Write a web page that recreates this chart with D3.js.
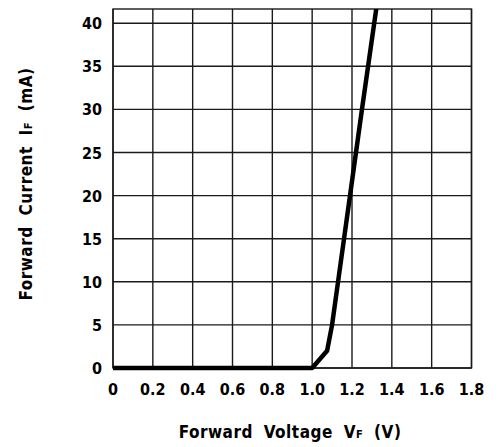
<!DOCTYPE html>
<html>
<head>
<meta charset="utf-8">
<script src="https://cdn.jsdelivr.net/npm/d3@7"></script>
<style>
  body { margin: 0; background: #fff; }
  text { font-family: "DejaVu Sans Condensed", "DejaVu Sans", sans-serif; font-weight: bold; fill: #000; }
</style>
</head>
<body>
<svg id="chartSvg" width="501" height="447"></svg>
<script>
// forward voltage (V) vs forward current (mA)
const voltage = [0, 1.0, 1.075, 1.10, 1.13, 1.19, 1.25, 1.33];
const current = [0, 0, 2, 5, 10, 20, 30, 43];

const xTicks = [0, 0.2, 0.4, 0.6, 0.8, 1.0, 1.2, 1.4, 1.6, 1.8];
const xTickLabels = ["0", "0.2", "0.4", "0.6", "0.8", "1.0", "1.2", "1.4", "1.6", "1.8"];
const yTicks = [0, 5, 10, 15, 20, 25, 30, 35, 40];

const svg = d3.select("#chartSvg");
const margin = { top: 9, right: 29.5, bottom: 79, left: 113 };
const width = 501, height = 447;

const xScale = d3.scaleLinear()
  .domain([0, 1.8])
  .range([margin.left, width - margin.right]);

const yScale = d3.scaleLinear()
  .domain([0, 41.65])
  .range([height - margin.bottom, margin.top]);

const gridColor = "#1a1a1a";

// vertical grid lines
svg.append("g")
  .selectAll("line")
  .data(xTicks)
  .enter()
  .append("line")
  .attr("x1", d => xScale(d))
  .attr("x2", d => xScale(d))
  .attr("y1", yScale.range()[0])
  .attr("y2", yScale.range()[1])
  .style("stroke", gridColor)
  .style("stroke-width", 1.4);

// horizontal grid lines
svg.append("g")
  .selectAll("line")
  .data(yTicks)
  .enter()
  .append("line")
  .attr("x1", xScale.range()[0])
  .attr("x2", xScale.range()[1])
  .attr("y1", d => yScale(d))
  .attr("y2", d => yScale(d))
  .style("stroke", gridColor)
  .style("stroke-width", 1.4);

// frame
svg.append("rect")
  .attr("x", xScale.range()[0])
  .attr("y", yScale.range()[1])
  .attr("width", xScale.range()[1] - xScale.range()[0])
  .attr("height", yScale.range()[0] - yScale.range()[1])
  .style("fill", "none")
  .style("stroke", gridColor)
  .style("stroke-width", 1.4);

// clip the curve to the plot area
svg.append("clipPath")
  .attr("id", "plotClip")
  .append("rect")
  .attr("x", xScale.range()[0] - 3)
  .attr("y", yScale.range()[1])
  .attr("width", xScale.range()[1] - xScale.range()[0] + 3)
  .attr("height", yScale.range()[0] - yScale.range()[1] + 3);

const line = d3.line()
  .x((d, i) => xScale(voltage[i]))
  .y((d, i) => yScale(current[i]));

svg.append("path")
  .datum(current)
  .attr("d", line)
  .attr("clip-path", "url(#plotClip)")
  .style("fill", "none")
  .style("stroke", "#000")
  .style("stroke-width", 4.5)
  .style("stroke-linejoin", "round");

// x tick labels
svg.append("g")
  .selectAll("text")
  .data(xTicks)
  .enter()
  .append("text")
  .attr("x", d => xScale(d))
  .attr("y", 395)
  .attr("text-anchor", "middle")
  .attr("font-size", "16px")
  .text((d, i) => xTickLabels[i]);

// y tick labels
svg.append("g")
  .selectAll("text")
  .data(yTicks)
  .enter()
  .append("text")
  .attr("x", 102)
  .attr("y", d => yScale(d) + 6)
  .attr("text-anchor", "end")
  .attr("font-size", "16px")
  .text(d => d);

// axis titles
const xTitle = svg.append("text")
  .attr("x", 290)
  .attr("y", 438)
  .attr("text-anchor", "middle")
  .attr("font-size", "17px")
  .attr("letter-spacing", "0.5px")
  .attr("word-spacing", "5px");
xTitle.append("tspan").text("Forward Voltage V");
xTitle.append("tspan").attr("font-size", "11px").text("F");
xTitle.append("tspan").text(" (V)");

const yTitle = svg.append("text")
  .attr("transform", "translate(32, 184) rotate(-90)")
  .attr("text-anchor", "middle")
  .attr("font-size", "17px")
  .attr("letter-spacing", "0.5px")
  .attr("word-spacing", "5px");
yTitle.append("tspan").text("Forward Current I");
yTitle.append("tspan").attr("font-size", "11px").text("F");
yTitle.append("tspan").text(" (mA)");
</script>
</body>
</html>
